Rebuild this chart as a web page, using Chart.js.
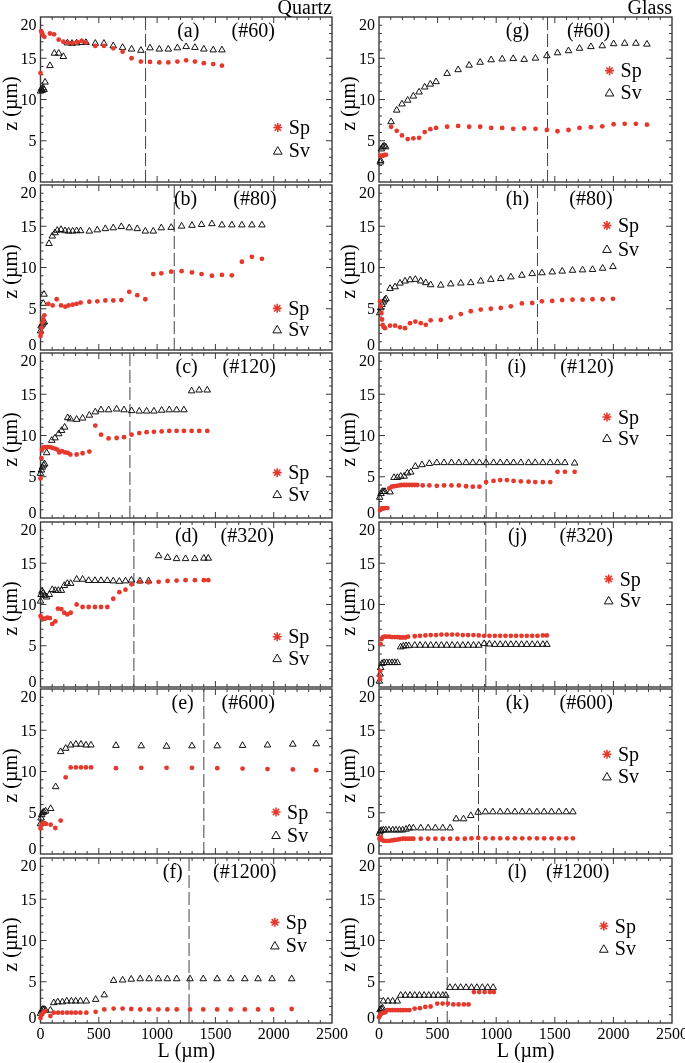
<!DOCTYPE html>
<html lang="en">
<head>
  <meta charset="UTF-8" />
  <title>Sp and Sv versus L</title>
  <style>
    body { margin: 0; background: #fff; }
    #wrap { position: relative; width: 685px; height: 1063px; overflow: hidden; }
    #wrap canvas { position: absolute; }
  </style>
</head>
<body>
<div id="wrap"></div>
<script src="https://cdn.jsdelivr.net/npm/chart.js"></script>
<script>
// axis ticks
const xTicks = [0, 500, 1000, 1500, 2000, 2500];
const yTicks = [0, 5, 10, 15, 20];

const columnTitles = ['Quartz', 'Glass'];
const panelTags = ['(a)', '(b)', '(c)', '(d)', '(e)', '(f)', '(g)', '(h)', '(i)', '(j)', '(k)', '(l)'];
const sampleTags = ['(#60)', '(#80)', '(#120)', '(#320)', '(#600)', '(#1200)',
                    '(#60)', '(#80)', '(#120)', '(#320)', '(#600)', '(#1200)'];
// dashed marker position, L (um)
const dashL = [901, 1147, 767, 801, 1401, 1274, 1438, 1352, 914, 911, 849, 582];

// [L (um), z (um)] pairs, quartz
const spA = [[0,13.2],[5,18.3],[12,18.1],[20,17.8],[33,17.6],[81,18.0],[116,17.9],[156,17.25],[196,17.0],[239,16.85],[276,16.85],[316,16.95],[353,17.1],[390,16.9],[470,16.5],[544,16.5],[624,16.2],[704,15.8],[781,15.0],[861,14.6],[939,14.55],[1019,14.5],[1096,14.5],[1174,14.6],[1249,14.75],[1324,14.6],[1401,14.4],[1481,14.3],[1556,14.1]];
const svA = [[0,11.0],[8,11.3],[15,11.1],[22,11.4],[30,11.2],[39,12.1],[81,14.1],[119,15.6],[156,15.6],[196,15.2],[231,16.85],[270,16.8],[310,16.85],[353,16.9],[390,16.9],[470,16.8],[544,16.8],[624,16.5],[704,16.3],[781,16.1],[861,15.95],[939,16.25],[1019,16.1],[1096,16.1],[1174,16.25],[1249,16.4],[1324,16.3],[1401,16.1],[1481,16.0],[1556,16.0]];

const spB = [[0,1.7],[5,2.1],[10,2.7],[16,3.3],[24,3.7],[33,4.2],[67,5.6],[104,5.4],[139,6.15],[176,5.4],[213,5.25],[241,5.4],[276,5.5],[310,5.6],[344,5.75],[419,5.85],[487,5.9],[556,6.0],[624,6.0],[693,6.05],[761,7.05],[830,6.65],[899,6.15],[967,9.2],[1036,9.3],[1121,9.5],[1210,9.55],[1299,9.4],[1381,9.2],[1470,9.0],[1556,9.1],[1641,9.05],[1727,10.7],[1813,11.3],[1899,11.05]];
const svB = [[0,2.3],[5,2.9],[15,3.1],[24,3.3],[33,3.4],[24,5.65],[30,6.75],[73,12.9],[101,13.8],[124,14.2],[144,14.5],[176,14.6],[210,14.45],[241,14.4],[276,14.4],[310,14.45],[344,14.45],[419,14.4],[487,14.55],[556,14.7],[624,14.8],[693,14.95],[761,14.8],[830,14.7],[899,14.4],[967,14.4],[1036,14.8],[1121,14.85],[1210,15.0],[1299,15.1],[1381,15.2],[1470,15.3],[1556,15.15],[1641,15.15],[1727,15.15],[1813,15.15],[1899,15.15]];

const spC = [[0,4.8],[8,7.25],[13,8.3],[24,8.55],[39,8.6],[61,8.6],[81,8.6],[101,8.5],[124,8.4],[144,8.3],[161,7.95],[184,8.1],[210,7.95],[233,7.9],[256,7.7],[310,7.7],[361,7.85],[419,8.05],[470,11.2],[519,10.1],[584,9.65],[653,9.7],[716,9.8],[781,10.1],[847,10.3],[910,10.4],[973,10.45],[1039,10.5],[1104,10.55],[1167,10.55],[1230,10.55],[1296,10.55],[1361,10.55],[1430,10.55]];
const svC = [[0,5.4],[8,5.8],[16,6.15],[27,6.4],[36,6.55],[53,7.9],[96,9.4],[124,9.7],[156,10.2],[181,10.6],[207,11.0],[233,12.15],[256,12.0],[310,11.95],[361,12.1],[419,12.45],[470,12.85],[519,13.1],[584,13.1],[653,13.2],[716,13.1],[781,13.0],[847,12.95],[910,12.95],[973,12.95],[1039,13.05],[1104,13.1],[1167,13.1],[1230,13.1],[1296,15.4],[1361,15.5],[1430,15.5]];

const spD = [[0,8.6],[10,8.4],[24,8.25],[41,8.3],[59,8.4],[81,8.35],[101,7.65],[127,7.95],[150,9.5],[179,9.45],[204,9.0],[230,8.8],[259,9.0],[310,10.0],[361,9.7],[413,9.7],[467,9.7],[519,9.7],[573,9.7],[624,10.7],[676,11.5],[729,11.8],[780,12.45],[853,12.75],[927,12.7],[1013,12.75],[1090,12.85],[1167,12.9],[1244,12.95],[1324,12.95],[1401,12.95],[1439,12.95]];
const svD = [[0,10.4],[5,11.2],[13,11.6],[24,11.4],[36,11.1],[53,10.9],[76,11.2],[101,11.8],[127,11.7],[153,11.7],[179,11.7],[204,12.3],[230,12.55],[259,12.55],[310,13.05],[361,13.05],[413,12.9],[467,12.9],[519,12.9],[573,12.9],[624,12.85],[676,12.8],[729,12.85],[780,12.95],[853,12.85],[927,12.85],[1013,15.9],[1090,15.7],[1167,15.55],[1244,15.55],[1324,15.55],[1401,15.6],[1439,15.6]];

const spE = [[0,3.1],[8,3.5],[19,3.75],[33,3.75],[47,3.65],[87,3.55],[127,3.15],[173,4.05],[216,9.3],[259,10.5],[304,10.5],[347,10.5],[390,10.5],[433,10.5],[647,10.4],[864,10.45],[1081,10.45],[1299,10.45],[1516,10.4],[1733,10.35],[1947,10.3],[2164,10.25],[2364,10.15]];
const svE = [[0,3.65],[5,4.35],[10,4.75],[19,5.0],[30,5.1],[44,5.2],[87,5.5],[130,8.15],[173,12.4],[216,12.8],[259,13.2],[304,13.3],[347,13.3],[390,13.2],[433,13.2],[647,13.15],[864,13.1],[1081,13.05],[1299,13.1],[1516,13.1],[1733,13.15],[1947,13.2],[2164,13.3],[2364,13.35]];

const spF = [[0,0.6],[6,0.95],[17,1.15],[28,1.35],[43,1.45],[85,0.85],[114,1.25],[151,1.25],[188,1.25],[228,1.25],[265,1.25],[302,1.25],[342,1.25],[393,1.25],[473,1.35],[547,1.65],[627,1.75],[704,1.75],[778,1.7],[855,1.65],[932,1.65],[1011,1.65],[1088,1.65],[1168,1.65],[1282,1.65],[1396,1.65],[1515,1.65],[1632,1.65],[1752,1.65],[1866,1.65],[1986,1.65],[2154,1.7]];
const svF = [[0,1.15],[9,1.45],[20,1.65],[31,1.65],[43,1.55],[85,1.55],[114,2.45],[148,2.55],[188,2.55],[225,2.65],[265,2.65],[302,2.65],[342,2.65],[393,2.65],[473,2.85],[547,3.4],[627,5.15],[704,5.2],[778,5.3],[855,5.35],[932,5.35],[1011,5.35],[1088,5.35],[1168,5.35],[1282,5.35],[1396,5.35],[1515,5.35],[1632,5.35],[1752,5.35],[1866,5.35],[1986,5.35],[2154,5.35]];

// glass
const spG = [[12,3.15],[26,3.2],[37,3.2],[48,3.3],[60,3.3],[103,6.7],[151,6.2],[196,5.65],[245,5.2],[293,5.3],[342,5.35],[390,6.05],[438,6.4],[487,6.55],[581,6.7],[675,6.8],[769,6.7],[863,6.7],[957,6.55],[1051,6.55],[1145,6.45],[1239,6.5],[1335,6.45],[1432,6.3],[1523,6.15],[1617,6.3],[1711,6.55],[1808,6.65],[1905,6.75],[2002,7.0],[2096,7.05],[2192,7.05],[2286,6.95]];
const svG = [[11,2.4],[14,2.6],[20,4.0],[31,4.25],[43,4.35],[57,4.25],[103,7.3],[151,8.7],[196,9.45],[245,9.9],[293,10.4],[342,10.9],[390,11.5],[438,11.85],[487,12.15],[581,13.15],[675,13.6],[769,14.15],[863,14.5],[957,14.8],[1051,14.9],[1145,14.95],[1239,14.85],[1335,15.0],[1432,15.3],[1523,15.65],[1617,15.9],[1711,16.2],[1808,16.4],[1905,16.5],[2002,16.75],[2096,16.8],[2192,16.8],[2286,16.7]];

const spH = [[9,5.9],[14,5.3],[20,4.5],[26,3.7],[31,3.05],[40,2.8],[51,2.65],[94,2.95],[137,2.95],[179,2.75],[222,2.65],[265,3.25],[310,3.45],[356,3.25],[399,3.05],[441,3.6],[527,3.65],[612,3.95],[698,4.35],[783,4.7],[868,4.9],[954,5.0],[1039,5.1],[1125,5.3],[1219,5.65],[1307,5.7],[1390,5.9],[1478,5.95],[1563,6.05],[1651,6.1],[1737,6.1],[1822,6.15],[1908,6.15],[1996,6.2]];
const svH = [[6,4.5],[14,5.1],[26,5.5],[37,5.8],[48,6.05],[60,6.2],[94,7.45],[137,7.65],[179,8.1],[222,8.35],[265,8.5],[310,8.55],[356,8.35],[399,8.15],[441,7.9],[527,7.85],[612,8.0],[698,8.1],[783,8.15],[868,8.35],[954,8.55],[1039,8.65],[1125,8.85],[1219,9.05],[1307,9.25],[1390,9.35],[1478,9.45],[1563,9.55],[1651,9.65],[1737,9.7],[1822,9.75],[1908,9.9],[1996,10.1]];

const spI = [[9,0.95],[23,1.15],[37,1.15],[51,1.2],[71,1.2],[88,3.6],[108,3.8],[128,3.85],[151,3.9],[174,3.95],[194,4.0],[216,4.0],[236,4.0],[259,4.0],[282,4.0],[305,4.0],[327,4.0],[373,3.95],[430,3.95],[493,3.9],[555,3.95],[618,3.95],[681,3.95],[743,3.85],[800,3.8],[857,3.8],[914,4.35],[977,4.5],[1034,4.6],[1091,4.6],[1148,4.5],[1210,4.45],[1276,4.4],[1333,4.35],[1398,4.35],[1461,4.35],[1523,5.6],[1586,5.6],[1669,5.6]];
const svI = [[6,2.5],[17,2.95],[28,3.2],[40,3.2],[51,3.2],[94,3.15],[128,4.9],[157,4.9],[185,5.05],[214,5.05],[242,5.45],[271,5.55],[310,6.25],[367,6.45],[430,6.6],[493,6.7],[555,6.7],[618,6.7],[681,6.7],[743,6.7],[800,6.7],[857,6.7],[914,6.7],[977,6.7],[1034,6.7],[1091,6.7],[1148,6.7],[1210,6.7],[1276,6.7],[1333,6.7],[1398,6.7],[1461,6.7],[1523,6.7],[1586,6.7],[1669,6.65]];

const spJ = [[3,1.35],[9,0.95],[11,1.95],[14,5.2],[20,5.8],[31,6.0],[45,6.1],[65,6.1],[88,6.1],[111,6.05],[134,6.05],[157,6.05],[179,6.0],[202,6.0],[225,6.0],[248,6.1],[305,6.15],[350,6.2],[396,6.25],[441,6.3],[487,6.3],[532,6.35],[578,6.35],[624,6.35],[669,6.35],[715,6.3],[760,6.3],[806,6.3],[851,6.25],[897,6.2],[942,6.2],[988,6.2],[1034,6.2],[1079,6.2],[1125,6.2],[1170,6.2],[1216,6.2],[1261,6.2],[1307,6.2],[1352,6.2],[1398,6.25],[1432,6.25]];
const svJ = [[3,0.7],[9,1.55],[14,2.35],[26,2.85],[43,2.95],[65,2.95],[88,2.95],[111,2.95],[134,2.95],[157,2.95],[185,4.85],[208,4.95],[231,5.0],[254,5.0],[305,5.05],[350,5.05],[396,5.05],[441,5.05],[487,5.05],[532,5.05],[578,5.05],[624,5.05],[669,5.05],[715,5.05],[760,5.05],[806,5.05],[851,5.05],[897,5.25],[942,5.2],[988,5.15],[1034,5.15],[1079,5.15],[1125,5.15],[1170,5.15],[1216,5.15],[1261,5.15],[1307,5.15],[1352,5.15],[1398,5.15],[1432,5.15]];

const spK = [[3,1.85],[14,2.05],[26,1.7],[43,1.6],[65,1.6],[88,1.6],[111,1.65],[134,1.7],[157,1.75],[179,1.8],[202,1.85],[225,1.85],[248,1.85],[271,1.85],[293,1.85],[356,1.85],[419,1.85],[481,1.85],[544,1.85],[607,1.85],[669,1.85],[732,1.85],[789,1.9],[846,1.95],[908,1.9],[971,1.9],[1034,1.9],[1096,1.9],[1159,1.9],[1222,1.9],[1284,1.9],[1347,1.9],[1409,1.9],[1472,1.9],[1535,1.9],[1597,1.9],[1654,1.9]];
const svK = [[3,2.5],[11,2.75],[20,2.85],[37,2.9],[57,2.9],[85,2.9],[117,2.9],[145,2.9],[174,2.9],[202,2.9],[231,3.0],[259,3.15],[293,3.15],[356,3.15],[419,3.15],[481,3.15],[544,3.15],[607,3.15],[658,4.25],[721,4.25],[783,4.65],[846,5.05],[908,5.1],[971,5.1],[1034,5.1],[1096,5.1],[1159,5.1],[1222,5.1],[1284,5.1],[1347,5.1],[1409,5.1],[1472,5.1],[1535,5.1],[1597,5.1],[1654,5.1]];

const spL = [[0,0.7],[9,0.95],[20,1.15],[37,1.25],[54,1.3],[71,1.55],[94,1.55],[116,1.55],[139,1.55],[162,1.55],[185,1.55],[207,1.55],[230,1.55],[258,1.55],[304,1.75],[349,1.8],[395,1.95],[440,2.0],[497,2.35],[543,2.35],[588,2.35],[634,2.25],[679,2.25],[724,2.25],[764,2.25],[810,3.75],[855,3.75],[901,3.75],[946,3.75],[980,3.75]];
const svL = [[9,1.6],[20,1.75],[31,1.8],[37,2.65],[77,2.65],[116,2.65],[156,2.65],[185,3.35],[225,3.35],[265,3.35],[305,3.35],[345,3.35],[385,3.35],[425,3.35],[465,3.35],[505,3.35],[545,3.35],[571,3.35],[605,4.3],[651,4.3],[697,4.3],[743,4.3],[789,4.3],[835,4.3],[881,4.3],[927,4.3],[974,4.3]];

const spSeries = [spA, spB, spC, spD, spE, spF, spG, spH, spI, spJ, spK, spL];
const svSeries = [svA, svB, svC, svD, svE, svF, svG, svH, svI, svJ, svK, svL];

// where the in-plot texts sit: [tag L, sample L, legend L, legend z Sp, legend z Sv]
const textAt = [
  [1267, 1824, 2035, 6.6, 3.8], [1244, 1839, 2030, 5.05, 2.5], [1253, 1790, 2030, 5.5, 2.9],
  [1253, 1773, 2030, 6.1, 3.5], [1219, 1781, 2020, 5.1, 2.3], [1134, 1752, 2010, 12.2, 9.4],
  [1182, 1788, 1967, 13.5, 10.85], [1182, 1808, 1945, 15.1, 12.25], [1176, 1774, 1945, 12.25, 9.7],
  [1182, 1768, 1960, 13.1, 10.5], [1182, 1768, 1945, 12.1, 9.4], [1179, 1696, 1918, 11.75, 9.0]
];

const SERIF = '"Liberation Serif", "Times New Roman", serif';
const RED = '#e5392d';
const ROW_TOP = [17, 185, 353, 522, 689, 858];
const PANEL_H = 165;

function triangle(ctx, x, y, r) {
  ctx.beginPath();
  ctx.moveTo(x, y - r);
  ctx.lineTo(x + 0.866 * r, y + 0.5 * r);
  ctx.lineTo(x - 0.866 * r, y + 0.5 * r);
  ctx.closePath();
  ctx.stroke();
}

function star(ctx, x, y, r) {
  ctx.beginPath();
  for (let k = 0; k < 4; k++) {
    const a = k * Math.PI / 4;
    ctx.moveTo(x - Math.cos(a) * r, y - Math.sin(a) * r);
    ctx.lineTo(x + Math.cos(a) * r, y + Math.sin(a) * r);
  }
  ctx.stroke();
}

const panelDeco = {
  id: 'panelDeco',
  beforeDatasetsDraw(chart, args, o) {
    const { ctx, chartArea: a, scales: { x, y } } = chart;
    ctx.save();
    ctx.strokeStyle = '#3a3a3a';
    ctx.lineWidth = 1;
    ctx.beginPath();
    for (let v = 100; v < 2500; v += 100) {
      const px = x.getPixelForValue(v);
      const len = v % 500 ? 3 : 6;
      ctx.moveTo(px, a.bottom); ctx.lineTo(px, a.bottom - len);
      ctx.moveTo(px, a.top); ctx.lineTo(px, a.top + len);
    }
    for (let v = 1; v < 20; v++) {
      const py = y.getPixelForValue(v);
      const len = v % 5 ? 3 : 6;
      ctx.moveTo(a.left, py); ctx.lineTo(a.left + len, py);
      ctx.moveTo(a.right, py); ctx.lineTo(a.right - len, py);
    }
    ctx.stroke();

    // dashed marker
    const dx = x.getPixelForValue(o.dash);
    ctx.strokeStyle = '#444';
    ctx.setLineDash([13, 4]);
    ctx.beginPath();
    ctx.moveTo(dx, a.top); ctx.lineTo(dx, a.bottom);
    ctx.stroke();
    ctx.setLineDash([]);

    ctx.strokeStyle = '#3a3a3a';
    ctx.lineWidth = 1.4;
    ctx.strokeRect(a.left, a.top, a.width, a.height);

    // tick labels
    ctx.fillStyle = '#000';
    ctx.font = '16px ' + SERIF;
    ctx.textAlign = 'right';
    ctx.textBaseline = 'alphabetic';
    yTicks.forEach(v => {
      const py = y.getPixelForValue(v);
      const base = v === 20 ? py + 12.5 : v === 0 ? py : py + 5.5;
      ctx.fillText(String(v), a.left - 4, base);
    });
    if (o.bottom) {
      ctx.textAlign = 'center';
      xTicks.forEach(v => ctx.fillText(String(v), x.getPixelForValue(v), a.bottom + 16));
      ctx.font = '20px ' + SERIF;
      ctx.fillText('L (\u00b5m)', (a.left + a.right) / 2, a.bottom + 34);
    }
    ctx.font = '20px ' + SERIF;
    if (o.title) {
      ctx.textAlign = 'right';
      ctx.fillText(o.title, a.right, a.top - 3);
    }
    ctx.save();
    ctx.translate(a.left - 29, (a.top + a.bottom) / 2 + 4);
    ctx.rotate(-Math.PI / 2);
    ctx.textAlign = 'center';
    ctx.textBaseline = 'middle';
    ctx.fillText('z (\u00b5m)', 0, 0);
    ctx.restore();
    ctx.restore();
  },
  afterDatasetsDraw(chart, args, o) {
    const { ctx, scales: { x, y } } = chart;
    ctx.save();
    ctx.fillStyle = '#000';
    ctx.font = '20px ' + SERIF;
    ctx.textAlign = 'center';
    const ty = y.getPixelForValue(18.2) + 5;
    ctx.fillText(o.tag, x.getPixelForValue(o.at[0]), ty);
    ctx.fillText(o.sample, x.getPixelForValue(o.at[1]), ty);

    const lx = x.getPixelForValue(o.at[2]);
    const y1 = y.getPixelForValue(o.at[3]);
    const y2 = y.getPixelForValue(o.at[4]);
    ctx.strokeStyle = RED;
    ctx.lineWidth = 1.6;
    star(ctx, lx, y1, 4.5);
    ctx.strokeStyle = '#111';
    ctx.lineWidth = 1;
    triangle(ctx, lx, y2 + 1, 5);
    ctx.textAlign = 'left';
    ctx.fillText('Sp', lx + 11, y1 + 6.6);
    ctx.fillText('Sv', lx + 11, y2 + 6.6);
    ctx.restore();
  }
};

const wrap = document.getElementById('wrap');
const toPts = arr => arr.map(([L, z]) => ({ x: L, y: z }));

for (let i = 0; i < 12; i++) {
  const col = i < 6 ? 0 : 1;
  const row = i % 6;
  const padTop = row === 0 ? 17 : 10;
  const padBottom = row === 5 ? 40 : 10;
  const W = 350, H = padTop + PANEL_H + padBottom;
  const cv = document.createElement('canvas');
  cv.width = W; cv.height = H;
  cv.style.width = W + 'px'; cv.style.height = H + 'px';
  cv.style.left = (col ? 335 : 0) + 'px';
  cv.style.top = (ROW_TOP[row] - padTop) + 'px';
  wrap.appendChild(cv);

  new Chart(cv, {
    type: 'scatter',
    data: {
      datasets: [{
        label: 'Sp',
        data: toPts(spSeries[i]),
        pointStyle: 'circle',
        pointRadius: 2.4,
        pointBackgroundColor: RED,
        pointBorderWidth: 0,
        clip: false
      }, {
        label: 'Sv',
        data: toPts(svSeries[i]),
        pointStyle: 'triangle',
        pointRadius: 3.8,
        pointBackgroundColor: 'rgba(0,0,0,0)',
        pointBorderColor: '#111',
        pointBorderWidth: 1,
        clip: false
      }]
    },
    options: {
      responsive: false,
      animation: false,
      events: [],
      layout: {
        padding: col
          ? { left: 44, right: 13, top: padTop, bottom: padBottom }
          : { left: 40.5, right: 18, top: padTop, bottom: padBottom }
      },
      scales: {
        x: { type: 'linear', min: 0, max: 2500, display: false },
        y: { type: 'linear', min: 0, max: 20, display: false }
      },
      plugins: {
        legend: { display: false },
        tooltip: { enabled: false },
        panelDeco: {
          tag: panelTags[i],
          sample: sampleTags[i],
          dash: dashL[i],
          at: textAt[i],
          bottom: row === 5,
          title: row === 0 ? columnTitles[col] : ''
        }
      }
    },
    plugins: [panelDeco]
  });
}
</script>
</body>
</html>
